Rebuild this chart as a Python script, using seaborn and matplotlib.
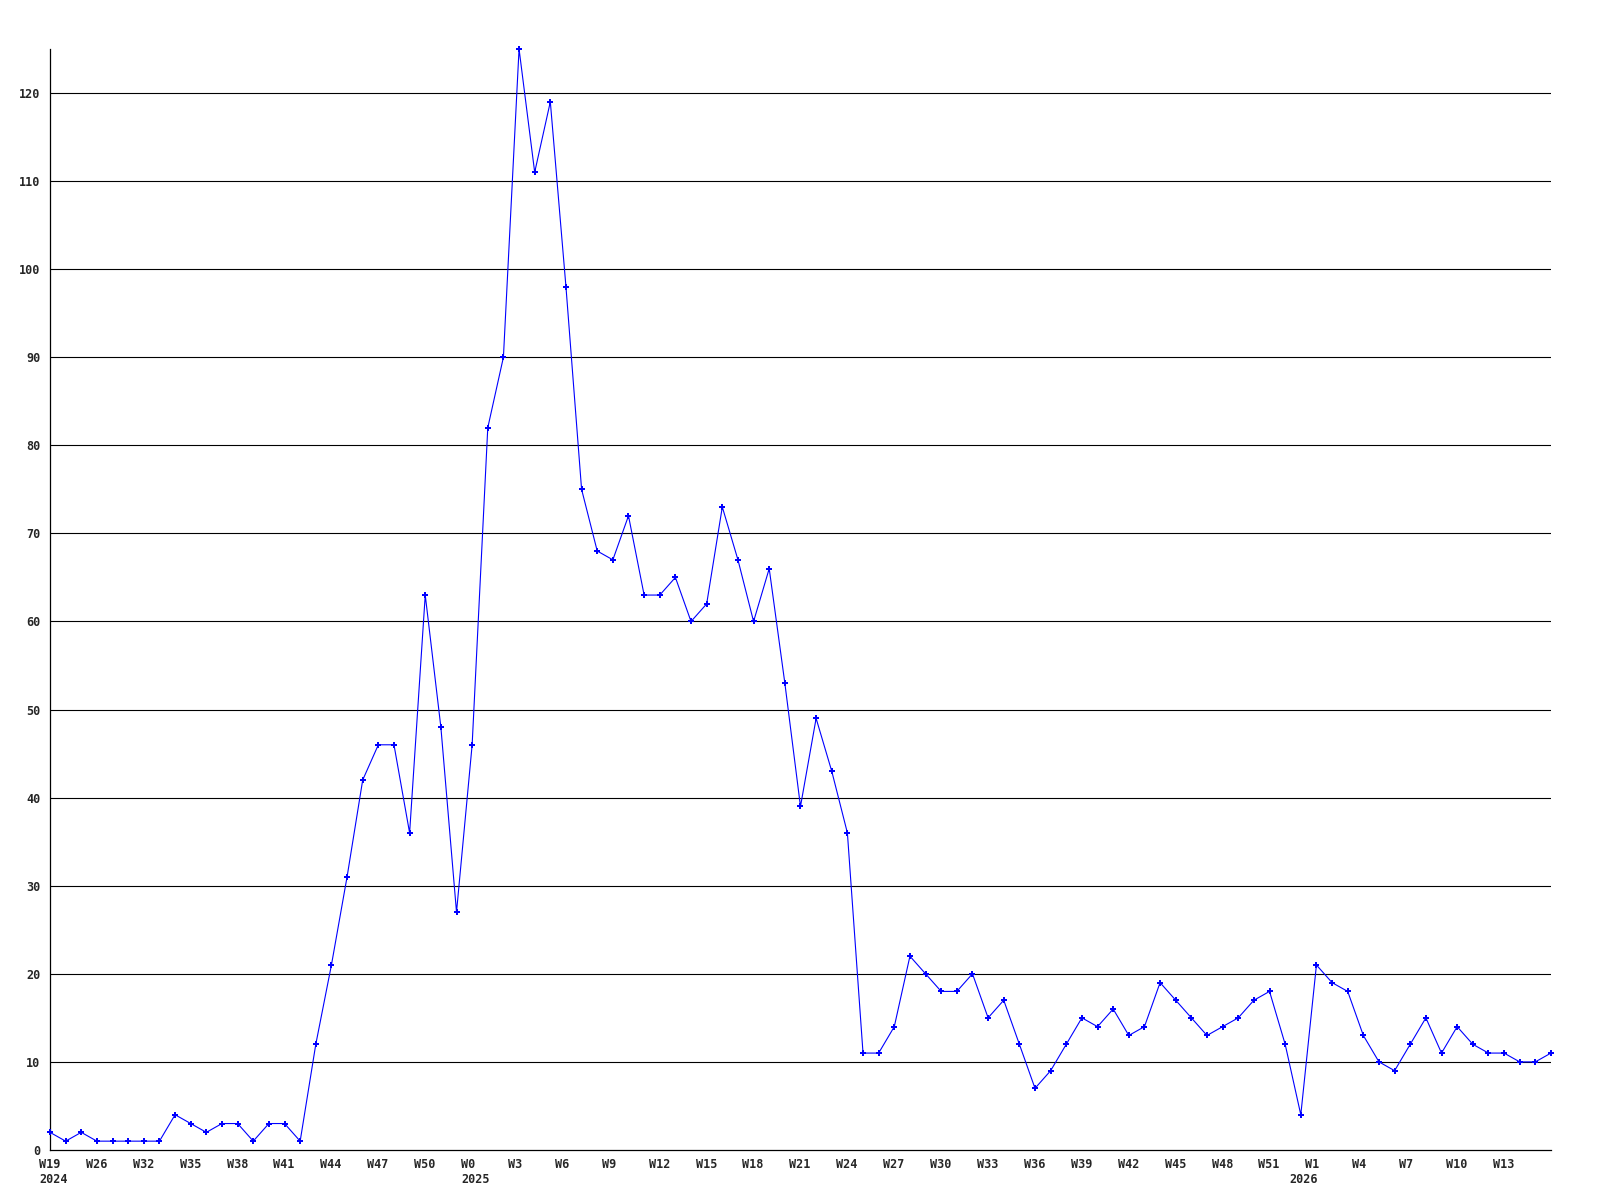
import matplotlib
matplotlib.use("Agg")
import matplotlib.pyplot as plt
import matplotlib.transforms as mtransforms
import seaborn as sns
import pandas as pd

# weekly counts
values = [
    2, 1, 2, 1, 1, 1, 1, 1, 4, 3, 2, 3, 3, 1, 3, 3, 1, 12, 21, 31,
    42, 46, 46, 36, 63, 48, 27, 46, 82, 90, 125, 111, 119, 98, 75, 68, 67, 72, 63, 63,
    65, 60, 62, 73, 67, 60, 66, 53, 39, 49, 43, 36, 11, 11, 14, 22, 20, 18, 18, 20,
    15, 17, 12, 7, 9, 12, 15, 14, 16, 13, 14, 19, 17, 15, 13, 14, 15, 17, 18, 12,
    4, 21, 19, 18, 13, 10, 9, 12, 15, 11, 14, 12, 11, 11, 10, 10, 11,
]

# every third point gets a week label
week_labels = [
    "W19", "W26", "W32", "W35", "W38", "W41", "W44", "W47", "W50",
    "W0", "W3", "W6", "W9", "W12", "W15", "W18", "W21", "W24", "W27",
    "W30", "W33", "W36", "W39", "W42", "W45", "W48", "W51",
    "W1", "W4", "W7", "W10", "W13",
]
year_labels = ["2024", "2025", "2026"]
year_start_idx = [0, 27, 80]
y_ticks = [0, 10, 20, 30, 40, 50, 60, 70, 80, 90, 100, 110, 120]

df = pd.DataFrame({"idx": range(len(values)), "count": values})

sns.set_style("white")
plt.rcParams['font.family'] = ['DejaVu Sans Mono', 'DejaVu Sans']

fig = plt.figure(figsize=(16, 12), dpi=100)
ax = fig.add_axes([0.03125, 0.0417, 0.9381, 0.9175])

for y in y_ticks[1:]:
    ax.axhline(y, color="black", linewidth=0.8, zorder=1)

sns.lineplot(data=df, x="idx", y="count", ax=ax, color="#0000ff", linewidth=0.8,
             marker="P", markersize=5, markeredgewidth=0, zorder=3, clip_on=False)

ax.set_xlim(0, len(values) - 1)
ax.set_ylim(0, 125)

# x labels start a little left of their point, years on a second row
ax.set_xticks([])
base = mtransforms.blended_transform_factory(ax.transData, ax.transAxes)
week_idx = list(range(0, 3 * len(week_labels), 3))
for idx, wk in zip(week_idx, week_labels):
    ax.annotate(wk, xy=(idx, 0), xycoords=base, xytext=(-8, -5.5),
                textcoords="offset points", fontsize=8.5, fontweight="bold",
                ha="left", va="top", annotation_clip=False)
for idx, yr in zip(year_start_idx, year_labels):
    ax.annotate(yr, xy=(idx, 0), xycoords=base, xytext=(-8, -16.5),
                textcoords="offset points", fontsize=8.5, fontweight="bold",
                ha="left", va="top", annotation_clip=False)

ax.set_yticks(y_ticks)
ax.set_yticklabels([str(v) for v in y_ticks], fontsize=8.5, fontweight="bold")
ax.tick_params(axis="both", length=0)
ax.tick_params(axis="y", pad=7)
ax.set_xlabel("")
ax.set_ylabel("")

sns.despine(ax=ax, top=True, right=True)
for side in ["left", "bottom"]:
    ax.spines[side].set_color("black")
    ax.spines[side].set_linewidth(0.9)

fig.savefig("out.png", dpi=100)
